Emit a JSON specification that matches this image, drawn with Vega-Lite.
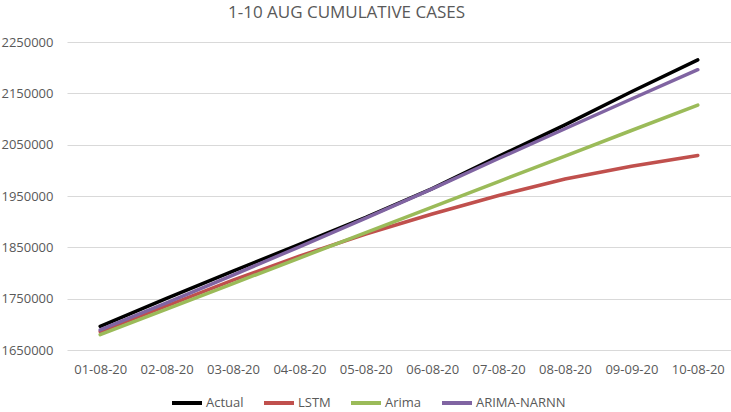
{
  "$schema": "https://vega.github.io/schema/vega-lite/v6.json",
  "width": 664,
  "height": 308,
  "autosize": {"type": "none"},
  "padding": {"left": 67, "top": 42, "right": 0, "bottom": 62},
  "background": "white",
  "title": {
    "text": "1-10 AUG CUMULATIVE CASES",
    "fontSize": 17,
    "fontWeight": "normal",
    "color": "#595959",
    "font": "Open Sans",
    "anchor": "start",
    "frame": "group",
    "dx": 161,
    "offset": 14
  },
  "config": {
    "view": {"stroke": null},
    "font": "Open Sans"
  },
  "data": {
    "values": [
      {"date": "01-08-20", "series": "Actual", "cases": 1695988},
      {"date": "02-08-20", "series": "Actual", "cases": 1750723},
      {"date": "03-08-20", "series": "Actual", "cases": 1803695},
      {"date": "04-08-20", "series": "Actual", "cases": 1855745},
      {"date": "05-08-20", "series": "Actual", "cases": 1908254},
      {"date": "06-08-20", "series": "Actual", "cases": 1964536},
      {"date": "07-08-20", "series": "Actual", "cases": 2027074},
      {"date": "08-08-20", "series": "Actual", "cases": 2088611},
      {"date": "09-09-20", "series": "Actual", "cases": 2153010},
      {"date": "10-08-20", "series": "Actual", "cases": 2215074},
      {"date": "01-08-20", "series": "LSTM", "cases": 1686000},
      {"date": "02-08-20", "series": "LSTM", "cases": 1736000},
      {"date": "03-08-20", "series": "LSTM", "cases": 1786000},
      {"date": "04-08-20", "series": "LSTM", "cases": 1833000},
      {"date": "05-08-20", "series": "LSTM", "cases": 1876000},
      {"date": "06-08-20", "series": "LSTM", "cases": 1915000},
      {"date": "07-08-20", "series": "LSTM", "cases": 1951000},
      {"date": "08-08-20", "series": "LSTM", "cases": 1983000},
      {"date": "09-09-20", "series": "LSTM", "cases": 2008000},
      {"date": "10-08-20", "series": "LSTM", "cases": 2029000},
      {"date": "01-08-20", "series": "Arima", "cases": 1680000},
      {"date": "02-08-20", "series": "Arima", "cases": 1729700},
      {"date": "03-08-20", "series": "Arima", "cases": 1779400},
      {"date": "04-08-20", "series": "Arima", "cases": 1829100},
      {"date": "05-08-20", "series": "Arima", "cases": 1878800},
      {"date": "06-08-20", "series": "Arima", "cases": 1928500},
      {"date": "07-08-20", "series": "Arima", "cases": 1978200},
      {"date": "08-08-20", "series": "Arima", "cases": 2027900},
      {"date": "09-09-20", "series": "Arima", "cases": 2077600},
      {"date": "10-08-20", "series": "Arima", "cases": 2127000},
      {"date": "01-08-20", "series": "ARIMA-NARNN", "cases": 1689000},
      {"date": "02-08-20", "series": "ARIMA-NARNN", "cases": 1742000},
      {"date": "03-08-20", "series": "ARIMA-NARNN", "cases": 1796000},
      {"date": "04-08-20", "series": "ARIMA-NARNN", "cases": 1851000},
      {"date": "05-08-20", "series": "ARIMA-NARNN", "cases": 1907000},
      {"date": "06-08-20", "series": "ARIMA-NARNN", "cases": 1964000},
      {"date": "07-08-20", "series": "ARIMA-NARNN", "cases": 2023000},
      {"date": "08-08-20", "series": "ARIMA-NARNN", "cases": 2081000},
      {"date": "09-09-20", "series": "ARIMA-NARNN", "cases": 2139000},
      {"date": "10-08-20", "series": "ARIMA-NARNN", "cases": 2196000}
    ]
  },
  "mark": {"type": "line", "strokeWidth": 3.5, "strokeCap": "round"},
  "encoding": {
    "x": {
      "field": "date",
      "type": "ordinal",
      "sort": null,
      "scale": {"type": "point", "padding": 0.5},
      "axis": {
        "title": null,
        "labelAngle": 0,
        "labelFontSize": 13,
        "labelColor": "#595959",
        "domain": false,
        "ticks": false,
        "grid": false,
        "labelPadding": 13
      }
    },
    "y": {
      "field": "cases",
      "type": "quantitative",
      "scale": {"domain": [1650000, 2250000], "nice": false, "zero": false},
      "axis": {
        "title": null,
        "values": [1650000, 1750000, 1850000, 1950000, 2050000, 2150000, 2250000],
        "format": "d",
        "labelFontSize": 13,
        "labelColor": "#595959",
        "domain": false,
        "ticks": false,
        "gridColor": "#d9d9d9",
        "gridWidth": 1,
        "labelPadding": 14
      }
    },
    "color": {
      "field": "series",
      "type": "nominal",
      "scale": {
        "domain": ["Actual", "LSTM", "Arima", "ARIMA-NARNN"],
        "range": ["#000000", "#C0504D", "#9BBB59", "#8064A2"]
      },
      "legend": {
        "title": null,
        "orient": "none",
        "direction": "horizontal",
        "legendX": 103,
        "legendY": 344,
        "symbolType": "stroke",
        "symbolStrokeWidth": 4,
        "symbolSize": 900,
        "labelFontSize": 13,
        "labelColor": "#595959",
        "columnPadding": 12,
        "labelOffset": 2,
        "labelLimit": 200
      }
    }
  }
}
